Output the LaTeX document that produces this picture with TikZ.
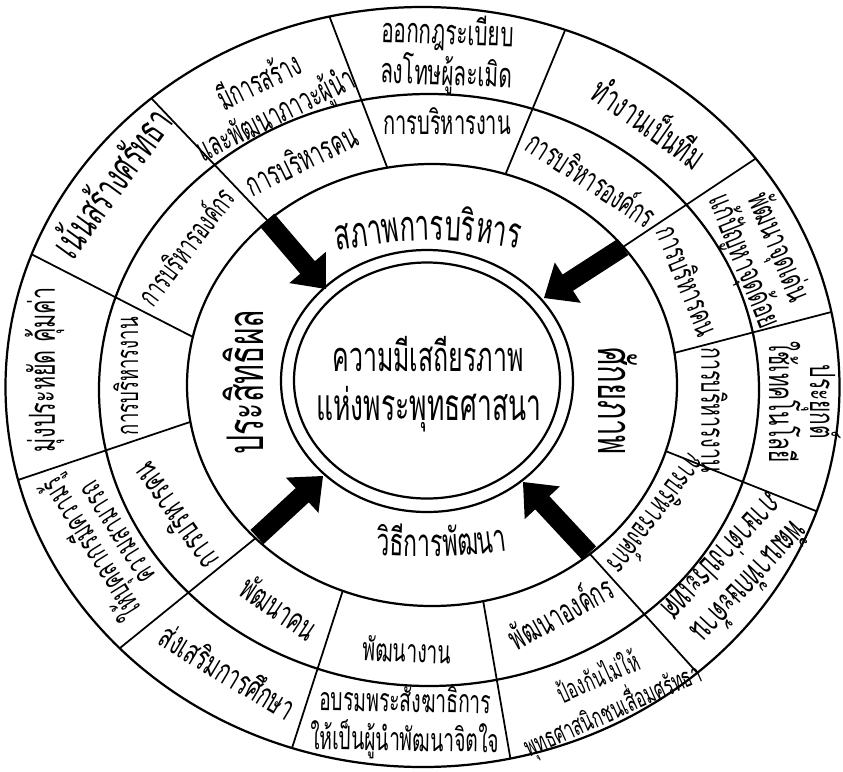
\documentclass[tikz,border=0pt]{standalone}
\usepackage{fontspec}
\usepackage{graphicx}
\usetikzlibrary{calc}
\newfontfamily\thai[Script=Thai]{Loma}
\newlength\pxl
\setlength\pxl{0.03cm}
\newlength\tmpw
\newcommand\thc[1]{\scalebox{0.6}[1]{\thai #1}}
\newcommand\tx[2]{\resizebox{#1\pxl}{!}{\scalebox{0.6}[1]{\thai\renewcommand\arraystretch{0.78}\begin{tabular}{@{}c@{}}#2\end{tabular}}}}
\newcommand\blockarrow[2]{%
  \coordinate (hb) at ($(#2)!0.85cm!(#1)$);
  \fill[black] ($(#1)!0.29cm!90:(#2)$) -- ($(hb)!0.29cm!-90:(#1)$) -- ($(hb)!0.72cm!-90:(#1)$) -- (#2) -- ($(hb)!0.72cm!90:(#1)$) -- ($(hb)!0.29cm!90:(#1)$) -- ($(#1)!0.29cm!-90:(#2)$) -- cycle;}
\tikzset{
  ring/.style={line width=1.9pt},
  div/.style={line width=1.5pt},
  lbl/.style={inner sep=0pt},
  chunk/.style={inner sep=0pt, outer sep=0pt},
}
\begin{document}
\settowidth\tmpw{\thc{สภาพการบริหาร}}%
\pgfmathsetmacro\sA{183*0.853583/\tmpw}%
\settowidth\tmpw{\thc{วิธีการพัฒนา}}%
\pgfmathsetmacro\sB{131*0.853583/\tmpw}%
\begin{tikzpicture}[x=0.03cm,y=-0.03cm]
\fill[white] (0,0) rectangle (843,771);
\useasboundingbox (0,0) rectangle (843,771);
% divider end points
\coordinate (aI) at (387,167); \coordinate (aO) at (330,18);
\coordinate (bI) at (267,220); \coordinate (bO) at (153,100);
\coordinate (cI) at (193,337); \coordinate (cO) at (33,255);
\coordinate (dI) at (190,422); \coordinate (dO) at (18,480);
\coordinate (eI) at (257,537); \coordinate (eO) at (120,648);
\coordinate (fI) at (343,590); \coordinate (fO) at (292,748);
\coordinate (gI) at (483,600); \coordinate (gO) at (511,762);
\coordinate (hI) at (589,553); \coordinate (hO) at (701,677);
\coordinate (iI) at (668,452); \coordinate (iO) at (826,515);
\coordinate (jI) at (506,173); \coordinate (jO) at (566,28);
\coordinate (kI) at (623,247); \coordinate (kO) at (761,155);
\coordinate (lI) at (674,353); \coordinate (lO) at (839,310);
\begin{scope}
  \clip (422.5,387) ellipse [x radius=417, y radius=380];
  \foreach \p in {a,b,c,d,e,f,g,h,i,j,k,l}
    \draw[div] ($(\p I)!-0.06!(\p O)$) -- ($(\p I)!1.06!(\p O)$);
\end{scope}
\fill[white] (432,385) ellipse [x radius=245, y radius=221];
% rings
\draw[ring] (422.5,387) ellipse [x radius=417, y radius=380];
\draw[ring] (429,390) ellipse [x radius=330, y radius=296];
\draw[ring] (432,385) ellipse [x radius=245, y radius=221];
\draw[ring] (427,381) ellipse [x radius=146, y radius=131];
\draw[ring] (427,380.5) ellipse [x radius=133, y radius=118];
% arrows
\coordinate (tTL) at (326,289);
\coordinate (tTR) at (544,298);
\coordinate (tBL) at (323,476);
\coordinate (tBR) at (523,482);
\blockarrow{bI}{tTL}
\blockarrow{kI}{tTR}
\blockarrow{eI}{tBL}
\blockarrow{hI}{tBR}
% centre
\node[lbl] (c1) at (428,360) {\tx{191}{ความมีเสถียรภาพ}};
\node[lbl] (c2) at (429,410) {\tx{225}{แห่งพระพุทธศาสนา}};
% main labels
\node[lbl, rotate=-90] (mR) at (611,401) {\tx{108}{ศักยภาพ}};
\node[lbl, rotate=90] (mL) at (250,382) {\tx{145}{ประสิทธิผล}};
\coordinate (jA) at (444,240);
\node[chunk, anchor=base east, rotate=2] (sA2) at (jA) {\scalebox{\sA}{\thc{การ}}};
\node[chunk, anchor=base east, rotate=8] (sA1) at (sA2.base west) {\scalebox{\sA}{\thc{สภาพ}}};
\node[chunk, anchor=base west, rotate=-3] (sA3) at (jA) {\scalebox{\sA}{\thc{บริ}}};
\node[chunk, anchor=base west, rotate=-9] (sA4) at (sA3.base east) {\scalebox{\sA}{\thc{หาร}}};
\coordinate (jB) at (443,556);
\node[chunk, anchor=base east, rotate=0] (sB2) at (jB) {\scalebox{\sB}{\thc{การ}}};
\node[chunk, anchor=base east, rotate=-2] (sB1) at (sB2.base west) {\scalebox{\sB}{\thc{วิธี}}};
\node[chunk, anchor=base west, rotate=3] (sB3) at (jB) {\scalebox{\sB}{\thc{พัฒ}}};
\node[chunk, anchor=base west, rotate=7] (sB4) at (sB3.base east) {\scalebox{\sB}{\thc{นา}}};
% middle ring
\node[lbl, rotate=26]   (m1)  at (303,163) {\tx{120}{การบริหารคน}};
\node[lbl, rotate=0]    (m2)  at (447,126) {\tx{128}{การบริหารงาน}};
\node[lbl, rotate=-33]  (m3)  at (590,181) {\tx{147}{การบริหารองค์กร}};
\node[lbl, rotate=-68]  (m4)  at (685,282) {\tx{115}{การบริหารคน}};
\node[lbl, rotate=-90]  (m5)  at (710,410) {\tx{125}{การบริหารงาน}};
\node[lbl, rotate=-127] (m6)  at (655,513) {\tx{140}{การบริหารองค์กร}};
\node[lbl, rotate=29]   (m7)  at (562,615) {\tx{114}{พัฒนาองค์กร}};
\node[lbl, rotate=-2]   (m8)  at (407,654) {\tx{88}{พัฒนางาน}};
\node[lbl, rotate=-34]  (m9)  at (277,611) {\tx{84}{พัฒนาคน}};
\node[lbl, rotate=125]  (m10) at (178,515) {\tx{122}{การบริหารคน}};
\node[lbl, rotate=90]   (m11) at (130,376) {\tx{118}{การบริหารงาน}};
\node[lbl, rotate=53]   (m12) at (188,248) {\tx{138}{การบริหารองค์กร}};
% outer ring
\node[lbl, rotate=26]   (o1)  at (268,100) {\tx{171}{มีการสร้าง\\และพัฒนาภาวะผู้นำ}};
\node[lbl, rotate=-2]   (o2)  at (447,55)  {\tx{132}{ออกกฎระเบียบ\\ลงโทษผู้ละเมิด}};
\node[lbl, rotate=-35]  (o3)  at (648,125) {\tx{128}{ทำงานเป็นทีม}};
\node[lbl, rotate=-68]  (o4)  at (760,255) {\tx{141}{พัฒนาจุดเด่น\\แก้ปัญหาจุดด้อย}};
\node[lbl, rotate=-90]  (o5)  at (800,402) {\tx{121}{ประยุกต์\\ใช้เทคโนโลยี}};
\node[lbl, rotate=-133] (o6)  at (734,568) {\tx{158}{พัฒนาทักษะด้าน\\ภาษาต่างประเทศ}};
\node[lbl, rotate=24]   (o7)  at (606,695) {\tx{190}{ป้องกันไม่ให้\\พุทธศาสนิกชนเสื่อมศรัทธา}};
\node[lbl, rotate=-1]   (o8)  at (405,723) {\tx{189}{อบรมพระสังฆาธิการ\\ให้เป็นผู้นำพัฒนาจิตใจ}};
\node[lbl, rotate=-31]  (o9)  at (226,675) {\tx{151}{ส่งเสริมการศึกษา}};
\node[lbl, rotate=122]  (o10) at (105,540) {\tx{160}{ให้บุคลากรมีความรู้\\ความสามารถ}};
\node[lbl, rotate=90]   (o11) at (45,370)  {\tx{165}{มุ่งประหยัด คุ้มค่า}};
\node[lbl, rotate=54]   (o12) at (115,185) {\tx{172}{เน้นสร้างศรัทธา}};
\end{tikzpicture}
\end{document}
